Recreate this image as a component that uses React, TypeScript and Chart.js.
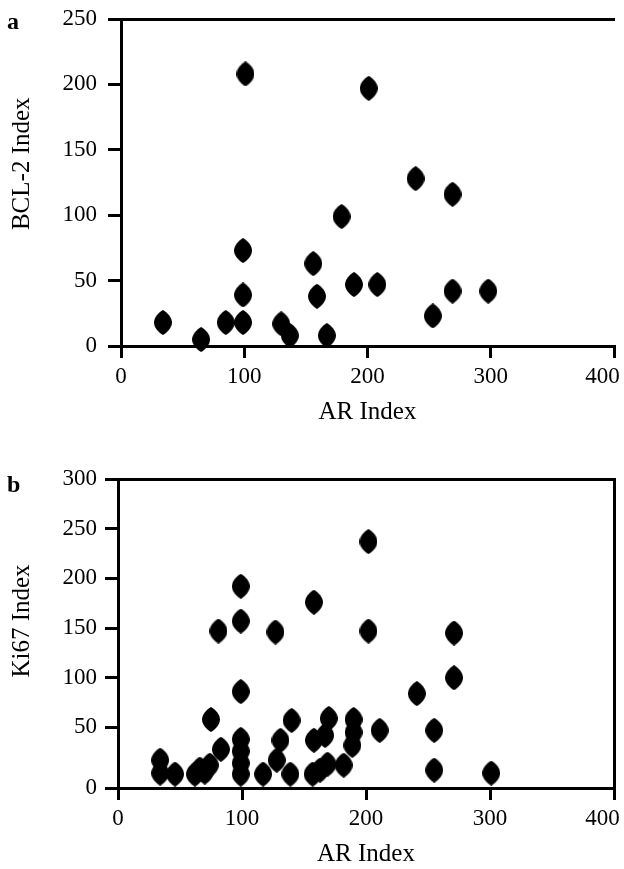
import React, { useEffect, useRef } from 'react';
import { Chart, registerables } from 'chart.js';

Chart.register(...registerables);

// ---------- Data ----------
// Panel a: AR Index vs BCL-2 Index
const arIndexA = [34, 65, 85, 99, 99, 99, 101, 130, 137, 156, 159, 167, 179, 189, 201, 208, 239, 253, 269, 269, 298];
const bcl2Index = [18, 5, 18, 18, 39, 73, 208, 17, 8, 63, 38, 8, 99, 47, 197, 47, 128, 23, 116, 42, 42];

// Panel b: AR Index vs Ki67 Index
const arIndexB = [34, 34, 46, 62, 66, 70, 74, 75, 81, 83, 99, 99, 99, 99, 99, 99, 99, 117, 127, 128, 131, 140, 139, 157, 158, 158, 163, 167, 169, 170, 182, 190, 190, 189, 202, 202, 211, 241, 255, 255, 271, 271, 301];
const ki67Index = [17, 4, 3, 3, 8, 5, 12, 58, 147, 28, 192, 157, 86, 38, 26, 14, 3, 3, 146, 17, 37, 57, 3, 3, 37, 176, 7, 42, 13, 59, 12, 58, 45, 32, 237, 147, 47, 84, 47, 7, 145, 100, 4];

// Axis ticks
const xTicks = [0, 100, 200, 300, 400];
const xTickLabels = ['0', '100', '200', '300', '400'];
const yTicksA = [0, 50, 100, 150, 200, 250];
const yTicksB = [0, 50, 100, 150, 200, 250, 300];
const yFloorB = -11; // panel b's x-axis sits slightly below zero, labelled "0"

const xTitle = 'AR Index';
const yTitleA = 'BCL-2 Index';
const yTitleB = 'Ki67 Index';

const FONT = '"Liberation Serif", "DejaVu Serif", serif';
const TICK_SIZE = 23;
const TITLE_SIZE = 25;

function makeMarker(): HTMLCanvasElement {
  const w = 18, h = 25;
  const c = document.createElement('canvas');
  c.width = w;
  c.height = h;
  const g = c.getContext('2d')!;
  g.fillStyle = '#000';
  g.beginPath();
  g.moveTo(w / 2, 0);
  g.bezierCurveTo(w * 0.74, h * 0.1, w, h * 0.3, w, h / 2);
  g.bezierCurveTo(w, h * 0.7, w * 0.74, h * 0.9, w / 2, h);
  g.bezierCurveTo(w * 0.26, h * 0.9, 0, h * 0.7, 0, h / 2);
  g.bezierCurveTo(0, h * 0.3, w * 0.26, h * 0.1, w / 2, 0);
  g.closePath();
  g.fill();
  return c;
}

interface PanelCfg {
  xs: number[];
  ys: number[];
  yMin: number;
  yMax: number;
  yTickVals: number[];
  yTickLabels: string[];
  yTitle: string;
  yTitleLead: string;
  padTop: number;
  padRight: number;
  yAxisWidth: number;
  xAxisHeight: number;
  yLabelPad: number;
  xTitlePadBottom: number;
  rightBorder: boolean;
}

function zeroPad(s: any) {
  s.paddingLeft = 0;
  s.paddingRight = 0;
  s.paddingTop = 0;
  s.paddingBottom = 0;
}

function buildChart(canvas: HTMLCanvasElement, p: PanelCfg): Chart {
  const marker = makeMarker();
  const tickFont = { family: FONT, size: TICK_SIZE };
  const titleFont = { family: FONT, size: TITLE_SIZE };
  return new Chart(canvas, {
    type: 'scatter',
    data: {
      datasets: [
        {
          data: p.xs.map((x, i) => ({ x, y: p.ys[i] })),
          pointStyle: marker as any,
          pointRadius: 9,
          backgroundColor: '#000',
          borderColor: '#000',
          clip: false as any,
        },
      ],
    },
    options: {
      animation: false,
      responsive: false,
      maintainAspectRatio: false,
      events: [],
      layout: { padding: { top: p.padTop, right: p.padRight, left: 0, bottom: 0 } },
      plugins: { legend: { display: false }, tooltip: { enabled: false } },
      scales: {
        x: {
          type: 'linear',
          position: 'bottom',
          min: 0,
          max: 400,
          afterBuildTicks: (s: any) => {
            s.ticks = xTicks.map((v) => ({ value: v }));
          },
          afterFit: (s: any) => {
            s.height = p.xAxisHeight;
            zeroPad(s);
          },
          ticks: {
            color: '#000',
            font: tickFont,
            padding: 5,
            maxRotation: 0,
            autoSkip: false,
            callback: (v: any) => {
              const i = xTicks.indexOf(Number(v));
              if (i < 0) return '';
              // keep the last label inside the canvas edge
              return i === xTicks.length - 1 ? xTickLabels[i] + '\u2002\u2002' : xTickLabels[i];
            },
          },
          grid: { drawOnChartArea: false, drawTicks: true, tickLength: 12, color: '#000', lineWidth: 3 },
          border: { display: true, color: '#000', width: 3 },
          title: { display: true, text: xTitle, color: '#000', font: titleFont, padding: { top: 0, bottom: p.xTitlePadBottom } },
        },
        xTop: {
          type: 'linear',
          position: 'top',
          min: 0,
          max: 400,
          afterFit: (s: any) => {
            s.height = 0;
            zeroPad(s);
          },
          ticks: { display: false },
          grid: { display: false, drawTicks: false },
          border: { display: true, color: '#000', width: 3 },
        },
        y: {
          type: 'linear',
          position: 'left',
          min: p.yMin,
          max: p.yMax,
          afterBuildTicks: (s: any) => {
            s.ticks = p.yTickVals.map((v) => ({ value: v }));
          },
          afterFit: (s: any) => {
            s.width = p.yAxisWidth;
            zeroPad(s);
          },
          ticks: {
            color: '#000',
            font: tickFont,
            padding: p.yLabelPad,
            autoSkip: false,
            callback: (v: any) => {
              const i = p.yTickVals.indexOf(Number(v));
              return i >= 0 ? p.yTickLabels[i] : '';
            },
          },
          grid: { drawOnChartArea: false, drawTicks: true, tickLength: 13, color: '#000', lineWidth: 3 },
          border: { display: true, color: '#000', width: 3 },
          title: { display: true, text: p.yTitleLead + p.yTitle, color: '#000', font: titleFont, padding: { top: 7, bottom: 0 } },
        },
        yRight: {
          type: 'linear',
          position: 'right',
          display: p.rightBorder,
          min: p.yMin,
          max: p.yMax,
          afterFit: (s: any) => {
            s.width = 0;
            zeroPad(s);
          },
          ticks: { display: false },
          grid: { display: false, drawTicks: false },
          border: { display: true, color: '#000', width: 3 },
        },
      },
    },
  });
}

function Panel({ cfg, top, height }: { cfg: PanelCfg; top: number; height: number }) {
  const ref = useRef<HTMLCanvasElement | null>(null);
  useEffect(() => {
    if (!ref.current) return;
    const ch = buildChart(ref.current, cfg);
    return () => ch.destroy();
  }, []);
  return (
    <canvas
      ref={ref}
      width={624}
      height={height}
      style={{ position: 'absolute', left: 0, top, width: 624, height }}
    />
  );
}

const panelA: PanelCfg = {
  xs: arIndexA,
  ys: bcl2Index,
  yMin: 0,
  yMax: 250,
  yTickVals: yTicksA,
  yTickLabels: yTicksA.map(String),
  yTitle: yTitleA,
  yTitleLead: '\u2002\u2002\u2002',
  padTop: 19,
  padRight: 8,
  yAxisWidth: 121,
  xAxisHeight: 84,
  yLabelPad: 11,
  xTitlePadBottom: 3,
  rightBorder: false,
};

const panelB: PanelCfg = {
  xs: arIndexB,
  ys: ki67Index,
  yMin: yFloorB,
  yMax: 300,
  yTickVals: [yFloorB, ...yTicksB.slice(1)],
  yTickLabels: yTicksB.map(String),
  yTitle: yTitleB,
  yTitleLead: '\u2002\u2002',
  padTop: 39,
  padRight: 5,
  yAxisWidth: 118,
  xAxisHeight: 81,
  yLabelPad: 8,
  xTitlePadBottom: 0,
  rightBorder: true,
};

export default function App() {
  const labelStyle: React.CSSProperties = {
    position: 'absolute',
    left: 7,
    fontFamily: FONT,
    fontWeight: 'bold',
    fontSize: 24,
    lineHeight: '24px',
    color: '#000',
  };
  return (
    <div style={{ position: 'absolute', left: 0, top: 0, width: 624, height: 869, background: '#fff' }}>
      <Panel cfg={panelA} top={0} height={430} />
      <Panel cfg={panelB} top={440} height={429} />
      <div style={{ ...labelStyle, top: 9 }}>a</div>
      <div style={{ ...labelStyle, top: 472 }}>b</div>
    </div>
  );
}
